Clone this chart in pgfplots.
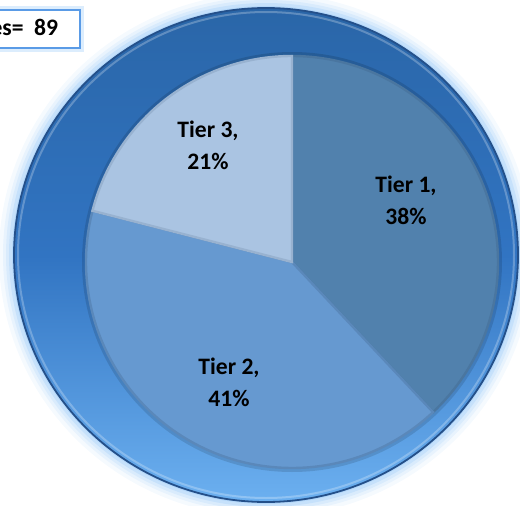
\documentclass[border=0pt]{standalone}
\usepackage{pgfplots}
\pgfplotsset{compat=1.18}
\usepackage{pgfplotstable}
\usepackage{fontspec}
\setmainfont{Carlito}
\definecolor{tA}{HTML}{5181AD}
\definecolor{tB}{HTML}{6699D0}
\definecolor{tC}{HTML}{AAC4E2}
\definecolor{tAe}{HTML}{4A76A0}
\definecolor{tBe}{HTML}{5A88BA}
\definecolor{tCe}{HTML}{98B2D0}
\definecolor{ringTop}{HTML}{2A66A8}
\definecolor{ringMid}{HTML}{3174C2}
\definecolor{ringBot}{HTML}{6CB0F0}
\definecolor{ringEdge}{HTML}{24508A}
\definecolor{glow}{HTML}{9CCBF8}
\definecolor{boxEdge}{HTML}{5A9BE6}

\pgfplotstableread{
tier value
1 38
2 41
3 21
}\piedata

\pgfplotstablegetelem{0}{value}\of\piedata \let\vA\pgfplotsretval
\pgfplotstablegetelem{1}{value}\of\piedata \let\vB\pgfplotsretval
\pgfplotstablegetelem{2}{value}\of\piedata \let\vC\pgfplotsretval
\pgfmathsetmacro\aO{90}
\pgfmathsetmacro\aA{90-3.6*\vA}
\pgfmathsetmacro\aB{\aA-3.6*\vB}
\pgfmathsetmacro\aC{\aB-3.6*\vC}
% pie centre (px units) and radius
\def\cx{292}\def\cy{243}\def\R{206}
\pgfmathsetmacro\xO{\cx+\R*cos(\aO)}\pgfmathsetmacro\yO{\cy+\R*sin(\aO)}
\pgfmathsetmacro\xA{\cx+\R*cos(\aA)}\pgfmathsetmacro\yA{\cy+\R*sin(\aA)}
\pgfmathsetmacro\xB{\cx+\R*cos(\aB)}\pgfmathsetmacro\yB{\cy+\R*sin(\aB)}

\begin{document}
\begin{tikzpicture}
\begin{axis}[
  scale only axis, width=260pt, height=252.5pt,
  xmin=0, xmax=520, ymin=0, ymax=505,
  hide axis, clip=true,
]
% glow around outer disc
\fill[glow, opacity=0.10] (axis cs:266,250) ellipse[x radius=133.5pt, y radius=131pt];
\fill[glow, opacity=0.15] (axis cs:266,250) ellipse[x radius=131.5pt, y radius=129pt];
\fill[glow, opacity=0.20] (axis cs:266,250) ellipse[x radius=130pt, y radius=127.5pt];
\fill[glow, opacity=0.30] (axis cs:266,250) ellipse[x radius=128.5pt, y radius=126pt];
\fill[glow, opacity=0.40] (axis cs:266,250) ellipse[x radius=127pt, y radius=124.5pt];
% outer ring disc
\shade[top color=ringTop, bottom color=ringBot, middle color=ringMid]
  (axis cs:266,250) ellipse[x radius=126pt, y radius=123.5pt];
\draw[ringEdge, line width=0.9pt] (axis cs:266,250) ellipse[x radius=126pt, y radius=123.5pt];
\draw[white, opacity=0.25, line width=1pt] (axis cs:266,250) ellipse[x radius=124pt, y radius=121.5pt];
% inner shadow behind pie
\fill[black, opacity=0.12] (axis cs:\cx,\cy) circle[radius=105pt];
% slices
\filldraw[fill=tA, draw=tAe, line width=1.2pt]
  (axis cs:\cx,\cy) -- (axis cs:\xO,\yO) arc[start angle=\aO, end angle=\aA, radius=103pt] -- cycle;
\filldraw[fill=tB, draw=tBe, line width=1.2pt]
  (axis cs:\cx,\cy) -- (axis cs:\xA,\yA) arc[start angle=\aA, end angle=\aB, radius=103pt] -- cycle;
\filldraw[fill=tC, draw=tCe, line width=1.2pt]
  (axis cs:\cx,\cy) -- (axis cs:\xB,\yB) arc[start angle=\aB, end angle=\aC, radius=103pt] -- cycle;
% labels
\node[align=center, font=\fontsize{11.8pt}{16pt}\selectfont\bfseries] at (axis cs:406,305) {Tier 1,\\38\%};
\node[align=center, font=\fontsize{11.8pt}{16pt}\selectfont\bfseries] at (axis cs:229,123) {Tier 2,\\41\%};
\node[align=center, font=\fontsize{11.8pt}{16pt}\selectfont\bfseries] at (axis cs:208,360) {Tier 3,\\21\%};
% total box
\fill[glow, opacity=0.35] (axis cs:-20,453) rectangle (axis cs:84,499);
\filldraw[fill=white, draw=boxEdge, line width=0.8pt] (axis cs:-20,457) rectangle (axis cs:80,495);
\node[anchor=east, inner sep=0pt, font=\fontsize{11.8pt}{14pt}\selectfont\bfseries] at (axis cs:58.5,475.5) {Total Responses=\ \ 89};
\end{axis}
\end{tikzpicture}
\end{document}
